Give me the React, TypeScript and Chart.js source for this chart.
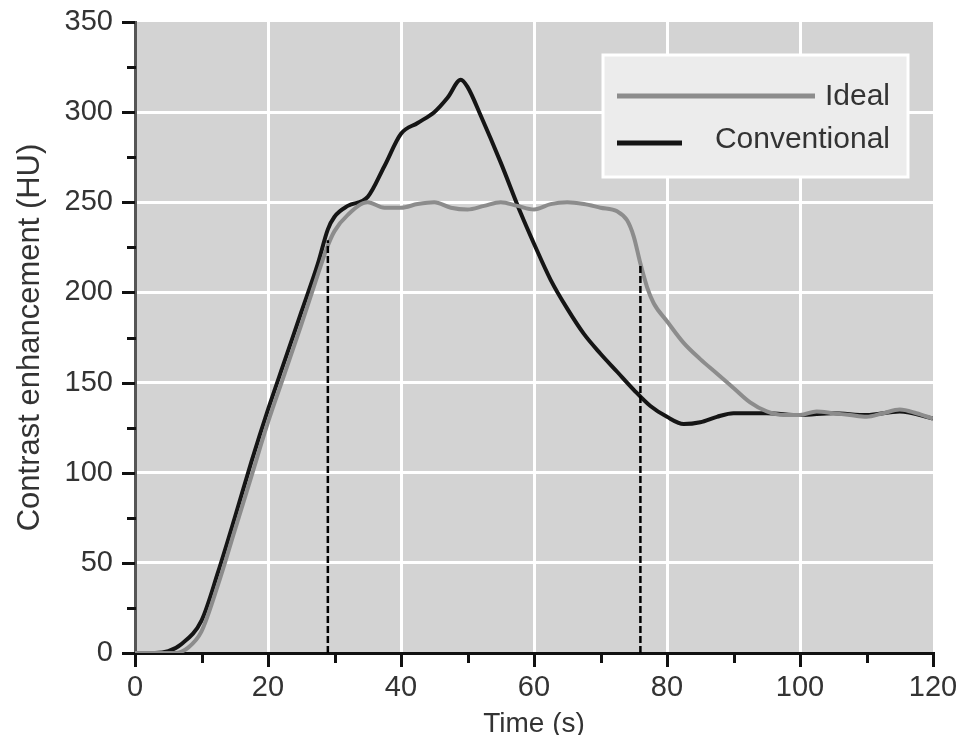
import React, { useEffect, useRef } from "react";
import { Chart, registerables } from "chart.js";

Chart.register(...registerables);

const idealTime = [0, 3, 6, 8, 10, 12.5, 15, 17.5, 20, 22.5, 25, 27.5, 29, 30, 32, 35, 37.5, 40, 42.5, 45, 47.5, 50, 52.5, 55, 57.5, 60, 62.5, 65, 67.5, 70, 72.5, 74, 75, 76, 77, 78, 80, 82.5, 85, 87.5, 90, 92.5, 95, 97.5, 100, 102.5, 105, 107.5, 110, 112.5, 115, 117.5, 120];
const idealValues = [0, 0, 0, 3, 12, 38, 68, 98, 128, 155, 182, 210, 226, 234, 243, 250, 247, 247, 249, 250, 247, 246, 248, 250, 248, 246, 249, 250, 249, 247, 245, 240, 231, 216, 203, 194, 184, 172, 163, 155, 147, 139, 134, 132, 132, 134, 133, 132, 131, 133, 135, 133, 130];

const convTime = [0, 3, 5, 7, 10, 12.5, 15, 17.5, 20, 22.5, 25, 27.5, 29, 30, 32, 35, 37.5, 40, 42.5, 45, 47, 49, 50, 52, 55, 58, 60, 62.5, 65, 67.5, 70, 72.5, 75, 77.5, 80, 82.5, 85, 87.5, 90, 95, 100, 105, 110, 115, 120];
const convValues = [0, 0, 1, 5, 18, 45, 75, 106, 135, 162, 189, 216, 235, 242, 248, 253, 270, 288, 294, 300, 308, 318, 314, 298, 272, 244, 227, 207, 191, 177, 166, 156, 146, 137, 131, 127, 128, 131, 133, 133, 132, 133, 132, 134, 130];

const markerTimes = [29, 76];
const markerValues = [229, 216];

const legendLabels = ["Ideal", "Conventional"];
const yTitle = "Contrast enhancement (HU)";
const xTitle = "Time (s)";

const FONT = "'Liberation Sans', Arial, sans-serif";

export default function App() {
  const ref = useRef<HTMLCanvasElement | null>(null);

  useEffect(() => {
    document.body.style.margin = "0";
    const canvas = ref.current;
    if (!canvas) return;

    const bgPlugin = {
      id: "bgPlugin",
      beforeDraw(chart: any) {
        const { ctx, chartArea } = chart;
        ctx.save();
        ctx.fillStyle = "#d3d3d3";
        ctx.fillRect(chartArea.left, chartArea.top, chartArea.right - chartArea.left, chartArea.bottom - chartArea.top);
        ctx.restore();
      },
      afterDraw(chart: any) {
        const { ctx, chartArea, scales } = chart;
        const xs = scales.x;
        const ys = scales.y;
        ctx.save();
        ctx.strokeStyle = "#111";
        ctx.lineWidth = 3;
        for (let v = 0; v <= 350; v += 25) {
          const py = Math.round(ys.getPixelForValue(v)) + 0.5;
          const major = v % 50 === 0;
          ctx.beginPath();
          ctx.moveTo(chartArea.left - (major ? 13 : 8), py);
          ctx.lineTo(chartArea.left + (major ? 0 : 1), py);
          ctx.stroke();
        }
        for (let t = 0; t <= 120; t += 10) {
          const px = Math.round(xs.getPixelForValue(t)) + 0.5;
          const major = t % 20 === 0;
          ctx.beginPath();
          ctx.moveTo(px, chartArea.bottom);
          ctx.lineTo(px, chartArea.bottom + (major ? 14 : 10));
          ctx.stroke();
        }
        // legend
        const bw = 305, bh = 122;
        const bx = chartArea.right - 25 - bw;
        const by = chartArea.top + 33;
        ctx.fillStyle = "#ececec";
        ctx.fillRect(bx, by, bw, bh);
        ctx.strokeStyle = "#ffffff";
        ctx.lineWidth = 3;
        ctx.strokeRect(bx, by, bw, bh);
        ctx.font = `30px ${FONT}`;
        ctx.fillStyle = "#333";
        ctx.textAlign = "right";
        ctx.textBaseline = "middle";
        ctx.lineWidth = 5;
        ctx.strokeStyle = "#8c8c8c";
        ctx.beginPath();
        ctx.moveTo(bx + 14, by + 41);
        ctx.lineTo(bx + 212, by + 41);
        ctx.stroke();
        ctx.fillText(legendLabels[0], bx + bw - 18, by + 42);
        ctx.strokeStyle = "#151515";
        ctx.beginPath();
        ctx.moveTo(bx + 14, by + 88);
        ctx.lineTo(bx + 79, by + 88);
        ctx.stroke();
        ctx.fillText(legendLabels[1], bx + bw - 18, by + 85);
        ctx.restore();
      },
    };

    const chart = new Chart(canvas, {
      type: "line",
      data: {
        datasets: [
          {
            label: legendLabels[0],
            data: idealTime.map((t, i) => ({ x: t, y: idealValues[i] })),
            borderColor: "#8c8c8c",
            borderWidth: 4,
            pointRadius: 0,
            cubicInterpolationMode: "monotone",
            fill: false,
            order: 1,
          },
          {
            label: legendLabels[1],
            data: convTime.map((t, i) => ({ x: t, y: convValues[i] })),
            borderColor: "#151515",
            borderWidth: 4,
            pointRadius: 0,
            cubicInterpolationMode: "monotone",
            fill: false,
            order: 2,
          },
          {
            label: "m1",
            data: [
              { x: markerTimes[0], y: 0 },
              { x: markerTimes[0], y: markerValues[0] },
            ],
            borderColor: "#000",
            borderWidth: 2.5,
            borderDash: [7, 3],
            pointRadius: 0,
            tension: 0,
            order: 0,
          },
          {
            label: "m2",
            data: [
              { x: markerTimes[1], y: 0 },
              { x: markerTimes[1], y: markerValues[1] },
            ],
            borderColor: "#000",
            borderWidth: 2.5,
            borderDash: [7, 3],
            pointRadius: 0,
            tension: 0,
            order: 0,
          },
        ],
      },
      options: {
        animation: false,
        responsive: false,
        maintainAspectRatio: false,
        layout: { padding: { top: 22, right: 31, left: 0, bottom: 0 } },
        plugins: {
          legend: { display: false },
          tooltip: { enabled: false },
        },
        scales: {
          x: {
            type: "linear",
            min: 0,
            max: 120,
            afterFit: (s: any) => {
              s.height = 82;
              s.paddingLeft = 0;
              s.paddingRight = 0;
            },
            ticks: {
              stepSize: 20,
              padding: 18,
              color: "#333",
              font: { family: FONT, size: 29 },
              maxRotation: 0,
            },
            grid: {
              drawTicks: false,
              color: (c: any) => (c.tick && (c.tick.value === 0 || c.tick.value === 120) ? "rgba(0,0,0,0)" : "#ffffff"),
              lineWidth: 3,
            },
            border: { display: true, color: "#111", width: 3 },
            title: {
              display: true,
              text: xTitle,
              color: "#333",
              font: { family: FONT, size: 28 },
              padding: { top: 0, bottom: -6 },
            },
          },
          y: {
            min: 0,
            max: 350,
            afterFit: (s: any) => {
              s.width = 135;
              s.paddingTop = 0;
              s.paddingBottom = 0;
            },
            ticks: {
              stepSize: 50,
              padding: 22,
              color: "#333",
              font: { family: FONT, size: 29 },
            },
            grid: {
              drawTicks: false,
              color: (c: any) => (c.tick && (c.tick.value === 0 || c.tick.value === 350) ? "rgba(0,0,0,0)" : "#ffffff"),
              lineWidth: 3,
            },
            border: { display: true, color: "#555", width: 3 },
            title: {
              display: true,
              text: yTitle,
              color: "#333",
              font: { family: FONT, size: 31 },
              padding: { top: 12, bottom: 0 },
            },
          },
        },
      },
      plugins: [bgPlugin],
    });

    return () => chart.destroy();
  }, []);

  return (
    <div style={{ position: "absolute", left: 0, top: 0, width: 964, height: 735, background: "#fff" }}>
      <canvas ref={ref} width={964} height={735} style={{ width: 964, height: 735, display: "block" }} />
    </div>
  );
}
